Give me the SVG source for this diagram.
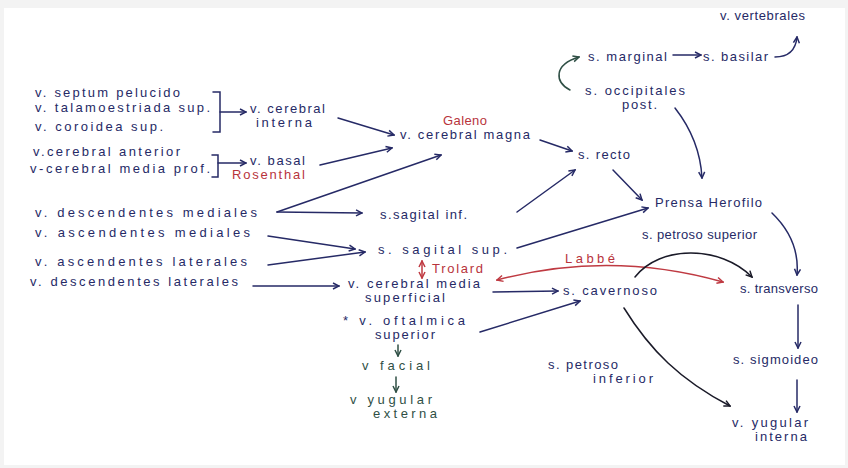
<svg xmlns="http://www.w3.org/2000/svg" width="848" height="468" viewBox="0 0 848 468">
<style>
.t{font-family:"Liberation Sans","Noto Sans",sans-serif;font-size:13px;fill:#262a66}
.r{fill:#b8343c}
.g{fill:#2f4f45}
.c{fill:none;stroke:#262a66;stroke-width:1.5;stroke-linecap:round}
.cb{stroke:#1a1a28}
.cr{stroke:#bf3a42}
.cg{stroke:#2f4f45}
.a{marker-end:url(#an)}
.ab{marker-end:url(#ak)}
.ag{marker-end:url(#ag)}
.ar{marker-start:url(#ar);marker-end:url(#ar)}
</style>
<defs>
<marker id="an" viewBox="0 0 8 8" refX="7" refY="4" markerWidth="8" markerHeight="8" markerUnits="userSpaceOnUse" orient="auto"><path d="M1,1 L7,4 L1,7" fill="none" stroke="#262a66" stroke-width="1.5"/></marker>
<marker id="ak" viewBox="0 0 8 8" refX="7" refY="4" markerWidth="8" markerHeight="8" markerUnits="userSpaceOnUse" orient="auto"><path d="M1,1 L7,4 L1,7" fill="none" stroke="#1a1a28" stroke-width="1.5"/></marker>
<marker id="ag" viewBox="0 0 8 8" refX="7" refY="4" markerWidth="8" markerHeight="8" markerUnits="userSpaceOnUse" orient="auto"><path d="M1,1 L7,4 L1,7" fill="none" stroke="#2f4f45" stroke-width="1.5"/></marker>
<marker id="ar" viewBox="0 0 8 8" refX="7" refY="4" markerWidth="8" markerHeight="8" markerUnits="userSpaceOnUse" orient="auto-start-reverse"><path d="M1,1 L7,4 L1,7" fill="none" stroke="#bf3a42" stroke-width="1.5"/></marker>
</defs>
<rect width="848" height="468" fill="#f3f3f3"/>
<rect x="4" y="8" width="841" height="457" fill="#ffffff"/>

<g id="connectors">
<path class="c" d="M213,92 H220 V132 H213"/>
<path class="c a" d="M220,112 H246"/>
<path class="c" d="M212,155 H218 V177 H212"/>
<path class="c a" d="M218,163 H246"/>
<path class="c a" d="M338,118 L394,135"/>
<path class="c a" d="M320,165 L392,148"/>
<path class="c a" d="M277,212 L441,155"/>
<path class="c a" d="M277,212 L362,213"/>
<path class="c a" d="M268,236 L355,249"/>
<path class="c a" d="M268,265 L365,252"/>
<path class="c a" d="M253,286 L339,286"/>
<path class="c a" d="M540,140 L572,151"/>
<path class="c a" d="M517,212 L575,170"/>
<path class="c a" d="M613,170 L642,200"/>
<path class="c a" d="M517,248 L648,208"/>
<path class="c a" d="M675,108 Q700,140 702,178"/>
<path class="c a" d="M772,213 Q800,240 797,275"/>
<path class="c cr ar" d="M422,261 L422,278"/>
<path class="c cr ar" d="M497,280 Q610,250 723,282"/>
<path class="c a" d="M493,292 L558,291"/>
<path class="c a" d="M480,332 L580,301"/>
<path class="c cb ab" d="M635,277 C660,245 720,245 752,277"/>
<path class="c cb ab" d="M624,308 C650,350 680,380 730,406"/>
<path class="c a" d="M798,305 L798,348"/>
<path class="c a" d="M797,380 L797,412"/>
<path class="c a" d="M673,55 L701,55"/>
<path class="c a" d="M775,57 Q795,57 797,37"/>
<path class="c cg ag" d="M570,90 C555,82 553,65 579,57"/>
<path class="c cg ag" d="M398,345 L398,356"/>
<path class="c cg ag" d="M396,377 L396,392"/>
</g>

<g id="septum-pelucido"><text class="t" x="35" y="97" textLength="145" lengthAdjust="spacing">v. septum pelucido</text></g>
<g id="talamoestriada"><text class="t" x="35" y="112" textLength="175" lengthAdjust="spacing">v. talamoestriada sup.</text></g>
<g id="coroidea"><text class="t" x="35" y="131" textLength="128" lengthAdjust="spacing">v. coroidea sup.</text></g>
<g id="cerebral-interna"><text class="t" x="250" y="113" textLength="75" lengthAdjust="spacing">v. cerebral</text><text class="t" x="256" y="127" textLength="56" lengthAdjust="spacing">interna</text></g>
<g id="cerebral-anterior"><text class="t" x="33" y="156" textLength="147" lengthAdjust="spacing">v.cerebral anterior</text></g>
<g id="cerebral-media-prof"><text class="t" x="30" y="173" textLength="180" lengthAdjust="spacing">v-cerebral media prof.</text></g>
<g id="basal"><text class="t" x="250" y="165" textLength="55" lengthAdjust="spacing">v. basal</text><text class="t r" x="232" y="179" textLength="73" lengthAdjust="spacing">Rosenthal</text></g>
<g id="desc-mediales"><text class="t" x="35" y="217" textLength="222" lengthAdjust="spacing">v. descendentes mediales</text></g>
<g id="asc-mediales"><text class="t" x="35" y="237" textLength="215" lengthAdjust="spacing">v. ascendentes mediales</text></g>
<g id="asc-laterales"><text class="t" x="35" y="266" textLength="212" lengthAdjust="spacing">v. ascendentes laterales</text></g>
<g id="desc-laterales"><text class="t" x="30" y="286" textLength="208" lengthAdjust="spacing">v. descendentes laterales</text></g>
<g id="cerebral-magna"><text class="t r" x="443" y="125" textLength="44" lengthAdjust="spacing">Galeno</text><text class="t" x="400" y="139" textLength="130" lengthAdjust="spacing">v. cerebral magna</text></g>
<g id="recto"><text class="t" x="578" y="159" textLength="52" lengthAdjust="spacing">s. recto</text></g>
<g id="sagital-inf"><text class="t" x="380" y="219" textLength="87" lengthAdjust="spacing">s.sagital inf.</text></g>
<g id="sagital-sup"><text class="t" x="378" y="254" textLength="129" lengthAdjust="spacing">s. sagital sup.</text></g>
<g id="trolard"><text class="t r" x="432" y="273" textLength="51" lengthAdjust="spacing">Trolard</text></g>
<g id="cerebral-media-sup"><text class="t" x="348" y="288" textLength="132" lengthAdjust="spacing">v. cerebral media</text><text class="t" x="365" y="302" textLength="80" lengthAdjust="spacing">superficial</text></g>
<g id="cavernoso"><text class="t" x="563" y="295" textLength="94" lengthAdjust="spacing">s. cavernoso</text></g>
<g id="labbe"><text class="t r" x="565" y="263" textLength="50" lengthAdjust="spacing">Labbé</text></g>
<g id="oftalmica"><text class="t" x="343" y="325" textLength="122" lengthAdjust="spacing">* v. oftalmica</text><text class="t" x="375" y="339" textLength="60" lengthAdjust="spacing">superior</text></g>
<g id="facial"><text class="t g" x="362" y="370" textLength="68" lengthAdjust="spacing">v facial</text></g>
<g id="yugular-externa"><text class="t g" x="350" y="404" textLength="82" lengthAdjust="spacing">v yugular</text><text class="t g" x="373" y="418" textLength="64" lengthAdjust="spacing">externa</text></g>
<g id="vertebrales"><text class="t" x="720" y="20" textLength="85" lengthAdjust="spacing">v. vertebrales</text></g>
<g id="marginal"><text class="t" x="588" y="61" textLength="79" lengthAdjust="spacing">s. marginal</text></g>
<g id="basilar"><text class="t" x="703" y="61" textLength="65" lengthAdjust="spacing">s. basilar</text></g>
<g id="occipitales"><text class="t" x="585" y="95" textLength="100" lengthAdjust="spacing">s. occipitales</text><text class="t" x="622" y="109" textLength="35" lengthAdjust="spacing">post.</text></g>
<g id="prensa-herofilo"><text class="t" x="655" y="207" textLength="107" lengthAdjust="spacing">Prensa Herofilo</text></g>
<g id="petroso-superior"><text class="t" x="642" y="239" textLength="115" lengthAdjust="spacing">s. petroso superior</text></g>
<g id="transverso"><text class="t" x="740" y="293" textLength="78" lengthAdjust="spacing">s. transverso</text></g>
<g id="petroso-inferior"><text class="t" x="548" y="369" textLength="70" lengthAdjust="spacing">s. petroso</text><text class="t" x="593" y="383" textLength="60" lengthAdjust="spacing">inferior</text></g>
<g id="sigmoideo"><text class="t" x="733" y="364" textLength="85" lengthAdjust="spacing">s. sigmoideo</text></g>
<g id="yugular-interna"><text class="t" x="732" y="427" textLength="76" lengthAdjust="spacing">v. yugular</text><text class="t" x="755" y="441" textLength="52" lengthAdjust="spacing">interna</text></g>
</svg>
